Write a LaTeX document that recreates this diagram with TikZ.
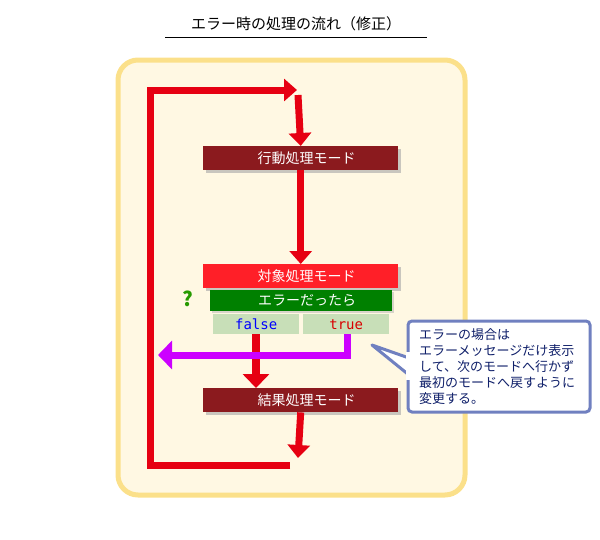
\documentclass[tikz,border=0pt]{standalone}
\usepackage{fontspec}
\setmainfont{Noto Sans CJK JP}
\newfontfamily\monof{DejaVu Sans Mono}
\usetikzlibrary{arrows.meta,shadows}
\definecolor{bgc}{HTML}{FFF8E3}
\definecolor{bgb}{HTML}{FBE08A}
\definecolor{flow}{HTML}{E60012}
\definecolor{dred}{HTML}{8B1A1E}
\definecolor{bred}{HTML}{FF1F28}
\definecolor{gr}{HTML}{008000}
\definecolor{cell}{HTML}{C8DFB8}
\definecolor{purp}{HTML}{CC00FF}
\definecolor{cbord}{HTML}{7080C0}
\definecolor{navy}{HTML}{10206A}
\tikzset{
 modebox/.style={minimum width=195pt,minimum height=24pt,inner sep=0pt,text=white,font=\fontsize{14}{16}\selectfont,drop shadow={shadow xshift=3pt,shadow yshift=-3pt,fill=black!35,opacity=0.6}},
 cellbox/.style={fill=cell,minimum width=86pt,minimum height=20pt,inner sep=0pt,font=\monof\fontsize{14}{16}\selectfont},
 flowarrow/.style={draw=flow,line width=7pt,-{Triangle[width=22pt,length=13pt]}},
}
\begin{document}
\begin{tikzpicture}[x=1pt,y=-1pt]
\useasboundingbox (0,0) rectangle (600,539);
\node[font=\fontsize{15}{17}\selectfont] (title) at (296,24) {エラー時の処理の流れ（修正）};
\draw[line width=1pt] (165,37) -- (427,37);
\draw[fill=bgc,draw=bgb,line width=5pt,rounded corners=20pt] (118,60) rectangle (465,495);
\coordinate (ls) at (290,465);
\coordinate (le) at (297,90);
\draw[flowarrow,line join=miter] (ls) -- (150,465) -- (150,90) -- (le);
\node[modebox,fill=dred,anchor=north west] (m1) at (203,146) {\hspace*{12pt}行動処理モード\hfill};
\node[modebox,fill=bred,anchor=north west] (m2) at (203,264) {\hspace*{12pt}対象処理モード\hfill};
\node[modebox,fill=dred,anchor=north west] (m3) at (203,388) {\hspace*{12pt}結果処理モード\hfill};
\node[fill=gr,minimum width=182pt,minimum height=21pt,inner sep=0pt,text=white,anchor=north west,font=\fontsize{14}{16}\selectfont,drop shadow={shadow xshift=2pt,shadow yshift=-2pt,fill=black!30,opacity=0.5}] (err) at (210,290) {\hspace*{12pt}エラーだったら\hfill};
\node[text=gr!80!lime,font=\bfseries\fontsize{20}{20}\selectfont] (q) at (188,299) {?};
\node[cellbox,text=blue,anchor=north west] (f) at (213,314) {false};
\node[cellbox,text=red!85!black,anchor=north west] (t) at (303,314) {true};
\draw[flowarrow] (298,95) -- (m1.north);
\draw[flowarrow] (m1.south) -- (m2.north);
\draw[draw=flow,line width=8pt,-{Triangle[width=26pt,length=14pt]}] (f.south -| 256,0) -- (m3.north -| 256,0);
\draw[draw=purp,line width=7pt,-{Triangle[width=28pt,length=14pt]}] (t.south -| 347,0) -- (347,355) -- (158,355);
\draw[flowarrow] (m3.south) -- (298,458);
\draw[fill=white,draw=cbord,line width=3pt,rounded corners=4pt] (408,321) rectangle (590,412);
\draw[fill=white,draw=cbord,line width=3pt,line join=round] (409,358) -- (372,345) -- (409,375);
\fill[white] (406,352) rectangle (412,380);
\node[anchor=north west,align=left,text=navy,font=\fontsize{13}{16}\selectfont,inner sep=0pt] (note) at (419,328) {エラーの場合は\\エラーメッセージだけ表示\\して、次のモードへ行かず\\最初のモードへ戻すように\\変更する。};
\end{tikzpicture}
\end{document}
